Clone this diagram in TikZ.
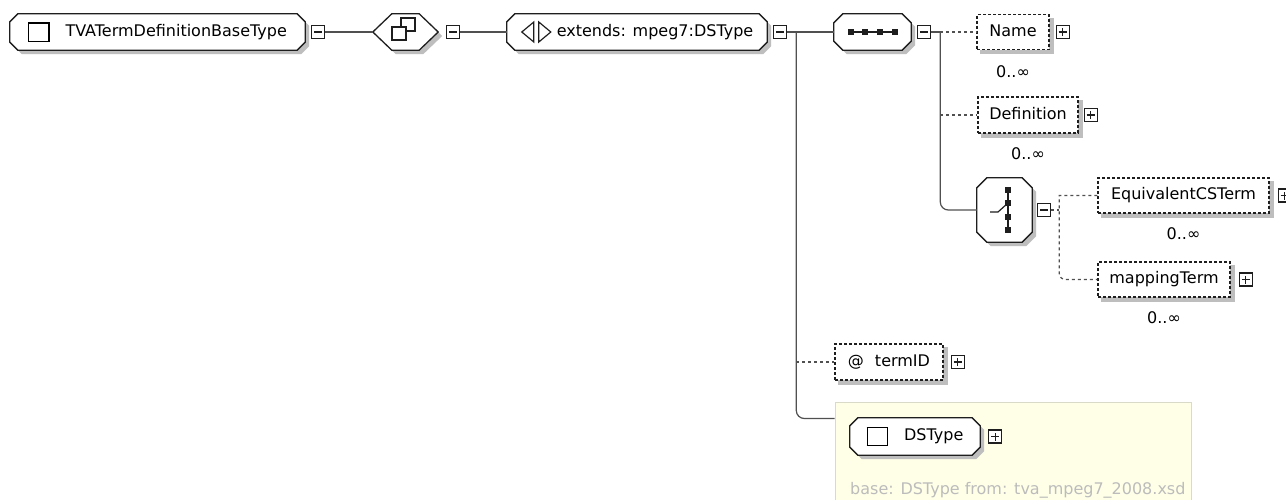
\documentclass[tikz,border=0pt]{standalone}
\usepackage{fontspec}
\setmainfont{DejaVu Sans}
\usetikzlibrary{positioning,backgrounds}
\definecolor{BoxInk}{HTML}{1E1E1E}
\definecolor{WireInk}{HTML}{505050}
\definecolor{ShadeGray}{HTML}{BEBEBE}
\definecolor{BaseFill}{HTML}{FFFFE8}
\definecolor{BaseEdge}{HTML}{DADAC8}
\definecolor{BaseNote}{HTML}{BCBCBC}
\newcommand\typeicon{\raisebox{-4.5pt}{\setlength\fboxsep{0pt}\setlength\fboxrule{1.2pt}\fbox{\rule{0pt}{17pt}\rule{19pt}{0pt}}}}
\newcommand\chamfer[2]{([xshift=#2]#1.north west) -- ([xshift=-#2]#1.north east)
  -- ([yshift=-#2]#1.north east) -- ([yshift=#2]#1.south east)
  -- ([xshift=-#2]#1.south east) -- ([xshift=#2]#1.south west)
  -- ([yshift=#2]#1.south west) -- ([yshift=-#2]#1.north west) -- cycle}
\newcommand\hexrim[2]{(#1.west) -- ([xshift=#2]#1.north west) -- ([xshift=-#2]#1.north east)
  -- (#1.east) -- ([xshift=-#2]#1.south east) -- ([xshift=#2]#1.south west) -- cycle}
\tikzset{
  schema/.style={x=1pt,y=-1pt,font=\fontsize{16}{19}\selectfont},
  item/.style={minimum height=36,inner sep=0,text height=12pt,text depth=4pt},
  optbox/.style={item,draw=BoxInk,fill=white,line width=1.2,dash pattern=on 3pt off 2pt},
  octo/.style={draw=BoxInk,fill=white,line width=1.3},
  tog/.style={draw=BoxInk,fill=white,minimum size=13,inner sep=0,line width=1.1},
  minus/.style={tog,path picture={\draw[line width=1.1]
    ([xshift=2.5pt]path picture bounding box.west) -- ([xshift=-2.5pt]path picture bounding box.east);}},
  plus/.style={tog,path picture={\draw[line width=1.1]
    ([xshift=2.5pt]path picture bounding box.west) -- ([xshift=-2.5pt]path picture bounding box.east)
    ([yshift=2.5pt]path picture bounding box.south) -- ([yshift=-2.5pt]path picture bounding box.north);}},
  card/.style={inner sep=0},
  icon/.style={draw=BoxInk,line width=1.2},
  wire/.style={draw=WireInk,line width=1.2},
  optwire/.style={wire,dash pattern=on 3pt off 3pt},
  basebox/.style={draw=BaseEdge,fill=BaseFill,line width=1,inner sep=0},
  basenote/.style={text=BaseNote,inner sep=0},
}
\begin{document}
\begin{tikzpicture}[schema]
  \useasboundingbox (0,0) rectangle (1286,499);

  % top row
  \node[item,minimum width=295] (root) at (157.5,32) {\typeicon\hspace{16pt}TVATermDefinitionBaseType};
  \node[minus,right=6pt of root] (rootm) {};
  \node[item,minimum width=65] (cc) at (405.5,32) {};
  \node[minus,right=8pt of cc] (ccm) {};
  \node[item,minimum width=260] (ext) at (637,32) {\hspace{36pt}extends: mpeg7:DSType};
  \node[minus,right=6pt of ext] (extm) {};
  \node[item,minimum width=77] (seq) at (872.5,32) {};
  \node[minus,right=6pt of seq] (seqm) {};

  % sequence members
  \node[optbox,minimum width=72,minimum height=35] (name) at (1013,32) {Name};
  \node[plus,right=6pt of name] (namep) {};
  \node[card,below=15pt of name] (namecard) {0..∞};
  \node[optbox,minimum width=100] (def) at (1028,115) {Definition};
  \node[plus,right=5pt of def] (defp) {};
  \node[card,below=14pt of def] (defcard) {0..∞};
  \node[item,minimum width=55,minimum height=64] (cho) at (1004.5,210) {};
  \node[minus,right=5pt of cho] (chom) {};
  \node[optbox,minimum width=171,minimum height=35] (eq) at (1183.5,195.5) {EquivalentCSTerm};
  \node[plus,right=8pt of eq] (eqp) {};
  \node[card,below=14pt of eq] (eqcard) {0..∞};
  \node[optbox,minimum width=132,minimum height=35] (map) at (1164,279.5) {mappingTerm};
  \node[plus,right=8pt of map] (mapp) {};
  \node[card,below=14pt of map] (mapcard) {0..∞};

  % attribute and base type
  \node[optbox,minimum width=108] (tid) at (889,362) {@\hspace{11pt}termID};
  \node[plus,right=7pt of tid] (tidp) {};
  \node[item,minimum width=130,minimum height=37] (dst) at (915,436.5) {\typeicon\hspace{16pt}DSType};
  \node[plus,right=8pt of dst] (dstp) {};
  \node[basenote,anchor=base west] (note) at (850,494) {base: DSType from: tva\_mpeg7\_2008.xsd};

  \begin{pgfonlayer}{background}
    \fill[white] (0,0) rectangle (1286,499);
    \node[basebox,minimum width=356,minimum height=128] (base) at (1013,466) {};
    \foreach \n in {name,def,eq,map,tid}
      \fill[ShadeGray] ([shift={(4pt,-4pt)}]\n.north west) rectangle ([shift={(4pt,-4pt)}]\n.south east);
    \fill[ShadeGray,transform canvas={shift={(4pt,-4pt)}}] \hexrim{cc}{19};
    \filldraw[octo] \hexrim{cc}{19};
    \foreach \n/\c in {root/8,ext/8,seq/9,cho/10,dst/8}{
      \fill[ShadeGray,transform canvas={shift={(4pt,-4pt)}}] \chamfer{\n}{\c};
      \filldraw[octo] \chamfer{\n}{\c};
    }
  \end{pgfonlayer}

  % icons
  \draw[icon] ([shift={(-4.5,-14)}]cc.center) rectangle ++(14,13);
  \filldraw[icon,fill=white] ([shift={(-13.5,-5)}]cc.center) rectangle ++(14,13);
  \filldraw[icon,fill=white] ([xshift=15pt]ext.west) -- ++(12,-10) -- ++(0,20) -- cycle;
  \filldraw[icon,fill=white] ([xshift=44pt]ext.west) -- ++(-12,-10) -- ++(0,20) -- cycle;
  \draw[icon] ([xshift=-22pt]seq.center) -- ([xshift=22pt]seq.center);
  \foreach \dx in {-22,-7.3,7.3,22}
    \fill[BoxInk] ([shift={(\dx-3,-3)}]seq.center) rectangle ++(6,6);
  \draw[icon] ([shift={(3.5,-20)}]cho.center) -- ([shift={(3.5,20)}]cho.center);
  \foreach \dy in {-20,-7,7,20}
    \fill[BoxInk] ([shift={(0.5,\dy-3)}]cho.center) rectangle ++(6,6);
  \draw[icon] ([shift={(-14.5,2)}]cho.center) -- ++(8,0) -- ++(10,-9);

  % connectors
  \coordinate (extj) at ([xshift=9pt]extm.east);
  \coordinate (seqj) at ([xshift=9pt]seqm.east);
  \coordinate (choj) at ([xshift=8pt]chom.east);
  \coordinate (basein) at ([yshift=-17pt]base.north west);
  \draw[wire] (rootm.east) -- (cc.west);
  \draw[wire] (ccm.east) -- (ext.west);
  \draw[wire] (extm.east) -- (seq.west);
  \draw[wire,rounded corners=8] (extj) |- (basein);
  \draw[optwire] (extj |- tid.west) -- (tid.west);
  \draw[wire] (seqm.east) -- (seqj);
  \draw[optwire] (seqj) -- (name.west);
  \draw[optwire] (seqj |- def.west) -- (def.west);
  \draw[wire,rounded corners=8] (seqj) |- (cho.west);
  \draw[optwire] (chom.east) -- (choj);
  \draw[optwire] (eq.west) -| (choj) [rounded corners=6] |- (map.west);
\end{tikzpicture}
\end{document}
